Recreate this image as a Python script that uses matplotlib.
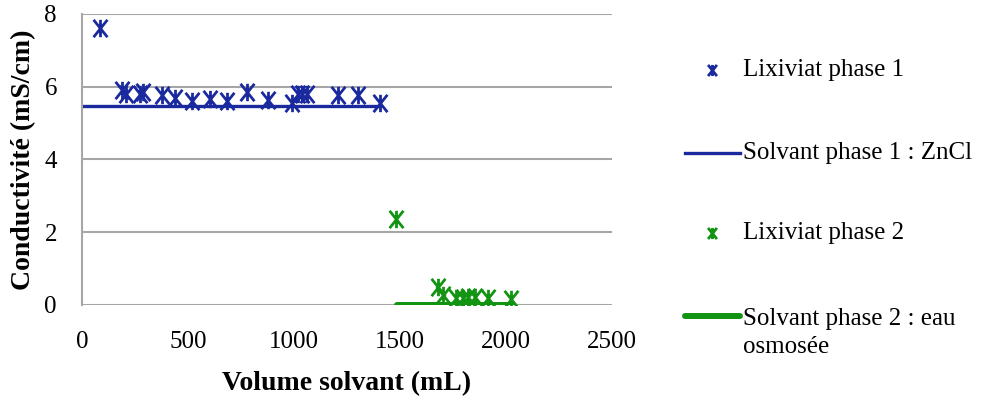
import numpy as np
import matplotlib.pyplot as plt
from matplotlib.lines import Line2D
from matplotlib.path import Path

# Lixiviat phase 1
vol1 = [83, 187, 206, 274, 289, 376, 439, 517, 604, 683, 777, 876, 989, 1018, 1040, 1063, 1208, 1302, 1407]
cond1 = [7.60, 5.90, 5.79, 5.79, 5.86, 5.78, 5.69, 5.60, 5.65, 5.61, 5.86, 5.63, 5.56, 5.81, 5.79, 5.81, 5.78, 5.78, 5.56]

# Solvant phase 1 : ZnCl
solv1_x = [0, 1400]
solv1_y = [5.48, 5.48]

# Lixiviat phase 2
vol2 = [1484, 1681, 1704, 1767, 1799, 1822, 1854, 1917, 2027]
cond2 = [2.36, 0.49, 0.27, 0.20, 0.20, 0.21, 0.21, 0.18, 0.16]

# Solvant phase 2 : eau osmosee
solv2_x = [1485, 2030]
solv2_y = [0.0, 0.0]

labels = ['Lixiviat phase 1', 'Solvant phase 1 : ZnCl', 'Lixiviat phase 2',
          'Solvant phase 2 : eau\nosmosée']

blue = '#1a2a9e'
green = '#129412'

# excel-like star marker: x with a vertical bar
star = Path([(0, -1), (0, 1), (-0.8, -1), (0.8, 1), (-0.8, 1), (0.8, -1)],
            [Path.MOVETO, Path.LINETO, Path.MOVETO, Path.LINETO, Path.MOVETO, Path.LINETO])

plt.rcParams['font.family'] = ['Liberation Serif', 'DejaVu Serif']

fig = plt.figure(figsize=(9.9, 3.96), dpi=100)
ax = fig.add_axes([0.0828, 0.230, 0.535, 0.735])

ax.plot(solv1_x, solv1_y, color=blue, lw=2.4, solid_capstyle='butt', zorder=2)
ax.plot(solv2_x, solv2_y, color=green, lw=4.3, solid_capstyle='round', zorder=2)
ax.plot(vol1, cond1, ls='none', marker=star, ms=12.5, mew=2, color=blue, zorder=3)
ax.plot(vol2, cond2, ls='none', marker=star, ms=12.5, mew=2, color=green, zorder=3)

ax.set_xlim(0, 2500)
ax.set_ylim(0, 8)
ax.set_xticks([0, 500, 1000, 1500, 2000, 2500])
ax.set_yticks([0, 2, 4, 6, 8])
ax.yaxis.grid(True, color='#a6a6a6', lw=1.5)
ax.set_axisbelow(True)
for s in ['top', 'right', 'bottom']:
    ax.spines[s].set_visible(False)
ax.spines['left'].set_color('#a6a6a6')
ax.spines['left'].set_linewidth(1.5)
ax.tick_params(axis='both', length=0, labelsize=18)
ax.tick_params(axis='x', pad=19)
ax.tick_params(axis='y', pad=18)
ax.set_xlabel('Volume solvant (mL)', fontsize=20, fontweight='bold', labelpad=13)
ax.set_ylabel('Conductivité (mS/cm)', fontsize=20, fontweight='bold', labelpad=6)

# legend drawn by hand (Excel places text of multi-line entries from the top)
rows_y = [1 - 70 / 396, 1 - 153 / 396, 1 - 233 / 396, 1 - 316 / 396]
mx, lx0, lx1, tx = 712 / 990, 685 / 990, 740 / 990, 743 / 990
fig.add_artist(Line2D([mx], [rows_y[0]], ls='none', marker=star, ms=8, mew=2, color=blue))
fig.add_artist(Line2D([lx0, lx1], [rows_y[1]] * 2, color=blue, lw=2.4))
fig.add_artist(Line2D([mx], [rows_y[2]], ls='none', marker=star, ms=8, mew=2, color=green))
fig.add_artist(Line2D([lx0, lx1], [rows_y[3]] * 2, color=green, lw=4.3, solid_capstyle='round'))
for i, lab in enumerate(labels):
    y = rows_y[i]
    if '\n' in lab:
        y -= 17 / 396
    fig.text(tx, y, lab, fontsize=18, va='center', ha='left', linespacing=1.35)

fig.savefig('out.png', dpi=100)
